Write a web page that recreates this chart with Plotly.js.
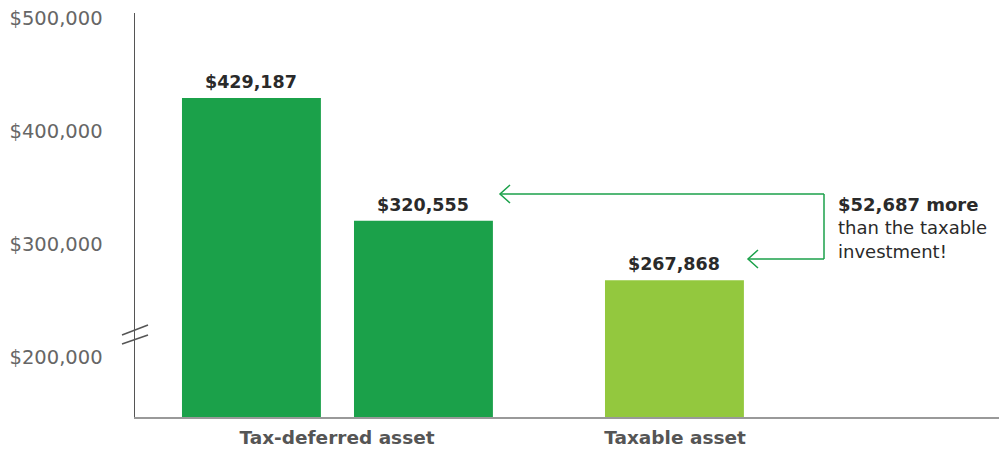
<!DOCTYPE html>
<html>
<head>
<meta charset="utf-8">
<script src="https://cdn.plot.ly/plotly-3.0.1.min.js"></script>
<style>html,body{margin:0;padding:0;background:#fff;}#chart{width:999px;height:449px;}</style>
</head>
<body>
<div id="chart"></div>
<script>
// ---- data ----
const categories = ["Tax-deferred asset", "Taxable asset"];
const taxDeferredValues = [429187, 320555];
const taxableValues = [267868];
const barLabels = ["$429,187", "$320,555", "$267,868"];
const yTickVals = [200000, 300000, 400000, 500000];
const yTickText = ["$200,000", "$300,000", "$400,000", "$500,000"];
const calloutBold = "$52,687 more";
const calloutLines = ["than the taxable", "investment!"];

// ---- layout constants ----
const W = 999, H = 449;
const M = {l: 135, r: 0, t: 13, b: 32};
const plotW = W - M.l - M.r, plotH = H - M.t - M.b;
const px = x => (x - M.l) / plotW;
const py = y => (H - M.b - y) / plotH;

const barWidth = 0.411;
const offsets = [-0.4586, 0.0503, -0.2071];
const darkGreen = "#1BA14A", lightGreen = "#93C83E";
const FONT = "'DejaVu Sans', 'Noto Sans', sans-serif";

const traces = [
  {type: "bar", x: [categories[0]], y: [taxDeferredValues[0]], width: [barWidth], offset: [offsets[0]], marker: {color: darkGreen}, hoverinfo: "skip"},
  {type: "bar", x: [categories[0]], y: [taxDeferredValues[1]], width: [barWidth], offset: [offsets[1]], marker: {color: darkGreen}, hoverinfo: "skip"},
  {type: "bar", x: [categories[1]], y: [taxableValues[0]], width: [barWidth], offset: [offsets[2]], marker: {color: lightGreen}, hoverinfo: "skip"}
];

const barVals = [taxDeferredValues[0], taxDeferredValues[1], taxableValues[0]];
const barIdx = [0, 0, 1];
const annotations = barVals.map((v, i) => ({
  x: barIdx[i] + offsets[i] + barWidth / 2, y: v, xref: "x", yref: "y",
  text: "<b>" + barLabels[i] + "</b>", showarrow: false,
  yanchor: "bottom", yshift: 4,
  font: {family: FONT, size: 17.5, color: "#2a2a2a"}
}));
annotations.push({
  x: px(836), y: py(192), xref: "paper", yref: "paper",
  xanchor: "left", yanchor: "top", align: "left", showarrow: false,
  text: "<b>" + calloutBold + "</b><br>" + calloutLines.join("<br>"),
  font: {family: FONT, size: 18, color: "#2a2a2a"}
});

const lineG = {color: darkGreen, width: 1.5};
const lineK = {color: "#555", width: 1.5};
const seg = (x0, y0, x1, y1, line) => ({type: "line", xref: "paper", yref: "paper", x0: px(x0), y0: py(y0), x1: px(x1), y1: py(y1), line: line});
const chev = (x, y, line) => ({type: "path", xref: "paper", yref: "paper",
  path: `M ${px(x + 10)} ${py(y - 9)} L ${px(x)} ${py(y)} L ${px(x + 10)} ${py(y + 9)}`, line: line});
const shapes = [
  seg(500, 194, 824, 194, lineG),
  seg(824, 194, 824, 259, lineG),
  seg(748, 259, 824, 259, lineG),
  chev(500, 194, lineG),
  chev(748, 259, lineG),
  seg(122, 335, 148, 325, lineK),
  seg(122, 344, 148, 335, lineK)
];

const layout = {
  width: W, height: H,
  margin: M,
  paper_bgcolor: "#fff", plot_bgcolor: "#fff",
  showlegend: false,
  barmode: "overlay",
  xaxis: {
    type: "category", range: [-0.5976, 1.9586],
    showgrid: false, zeroline: false, showline: true, linecolor: "#999", linewidth: 2,
    ticks: "", ticklabelstandoff: 3,
    tickfont: {family: FONT, size: 18.5, color: "#555", weight: "bold"}
  },
  yaxis: {
    range: [146900, 504400],
    tickvals: yTickVals, ticktext: yTickText,
    showgrid: false, zeroline: false, showline: true, linecolor: "#555", linewidth: 1.5,
    ticks: "", ticklabelstandoff: 27,
    tickfont: {family: FONT, size: 19.5, color: "#666"}
  },
  annotations: annotations,
  shapes: shapes
};

Plotly.newPlot("chart", traces, layout, {displayModeBar: false, staticPlot: true});
</script>
</body>
</html>
